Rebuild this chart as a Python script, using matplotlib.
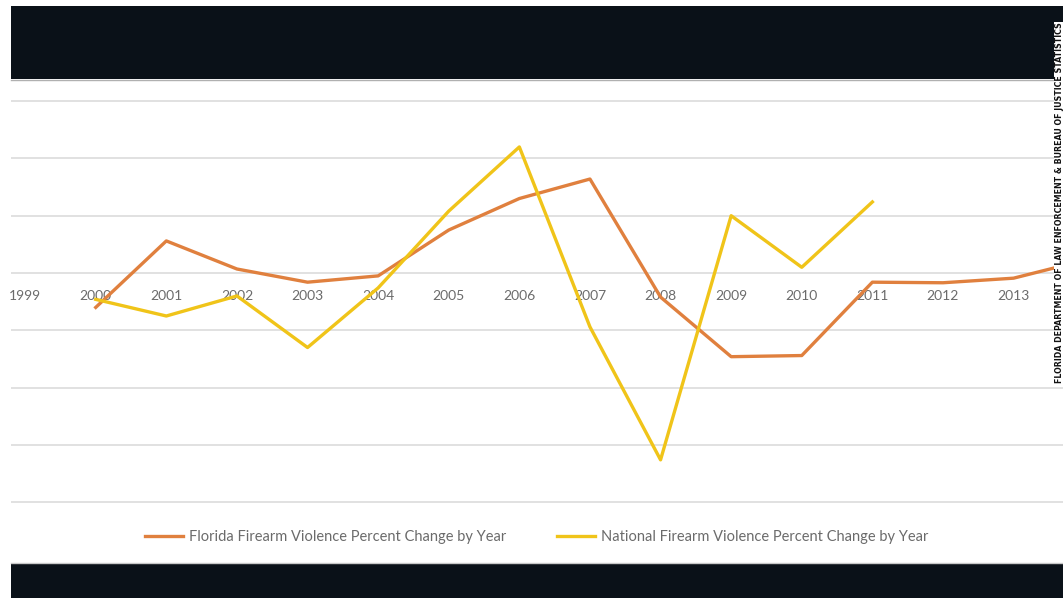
import matplotlib.pyplot as plt
from matplotlib.patches import Rectangle
from matplotlib.lines import Line2D

# axis categories
years = list(range(1999, 2014))

# percent change by year
florida_years = list(range(2000, 2015))
florida_change = [-3.0, 2.8, 0.35, -0.8, -0.25, 3.75, 6.5, 8.2, -2.1, -7.3, -7.2, -0.8, -0.85, -0.45, 1.1]

national_years = list(range(2000, 2012))
national_change = [-2.3, -3.75, -2.0, -6.5, -1.3, 5.4, 11.0, -4.7, -16.3, 5.0, 0.5, 6.2]

gridlines = [15, 10, 5, 0, -5, -10, -15, -20]

W, H = 1063, 598
fig = plt.figure(figsize=(W / 100, H / 100), dpi=100)
fig.patch.set_facecolor('white')

ax = fig.add_axes([11 / W, 1 - 563 / H, 1 - 11 / W, (563 - 80) / H])
ax.set_xlim(1998.80, 2013.70)
ax.set_ylim(-25.3, 16.84)

for g in gridlines:
    ax.axhline(g, color='#d9d9d9', lw=1.1, zorder=1)

ax.plot(florida_years, florida_change, color='#e0803e', lw=2.4,
        label='Florida Firearm Violence Percent Change by Year', zorder=3)
ax.plot(national_years, national_change, color='#f0c419', lw=2.4,
        label='National Firearm Violence Percent Change by Year', zorder=4)

# category labels sit along the zero line, like excel does
ax.spines['bottom'].set_position(('data', 0))
for s in ['left', 'right', 'top', 'bottom']:
    ax.spines[s].set_visible(False)
ax.set_xticks(years)
ax.set_xticklabels([str(y) for y in years], fontsize=10, color='#6b6b6b', family='Lato')
ax.tick_params(axis='x', length=0, pad=12)
ax.set_yticks([])

leg = fig.legend(loc='center', bbox_to_anchor=(537 / W, 1 - 537 / H), ncol=2,
                 frameon=False, handlelength=2.6, columnspacing=3.5,
                 handletextpad=0.4, prop={'family': 'Lato', 'size': 10.5})
for t in leg.get_texts():
    t.set_color('#6b6b6b')

# dark bands above and below the chart
fig.patches.append(Rectangle((11 / W, 1 - 79 / H), 1, 73 / H, transform=fig.transFigure,
                             facecolor='#0a1118', edgecolor='none', zorder=0))
fig.patches.append(Rectangle((11 / W, 0), 1, 34 / H, transform=fig.transFigure,
                             facecolor='#0a1118', edgecolor='none', zorder=0))
fig.lines.append(Line2D([11 / W, 1], [1 - 80 / H, 1 - 80 / H], transform=fig.transFigure,
                        color='#b0b0b0', lw=1))
fig.lines.append(Line2D([11 / W, 1], [1 - 563 / H, 1 - 563 / H], transform=fig.transFigure,
                        color='#c8c8c8', lw=1))

fig.text(1059 / W, 1 - 203 / H,
         'FLORIDA DEPARTMENT OF LAW ENFORCEMENT & BUREAU OF JUSTICE STATISTICS',
         rotation=90, ha='center', va='center', fontsize=5.7, fontweight='bold',
         color='#111111', bbox=dict(facecolor='white', edgecolor='none', pad=0.6))

fig.savefig('out.png', dpi=100)
